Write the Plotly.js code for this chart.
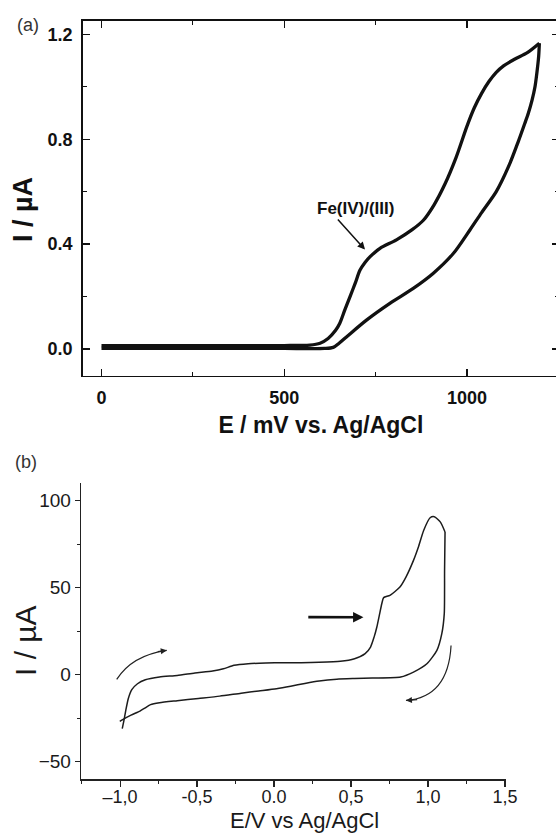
<!DOCTYPE html>
<html>
<head>
<meta charset="utf-8">
<script src="https://cdn.plot.ly/plotly-3.0.1.min.js"></script>
<style>
html, body { margin:0; padding:0; overflow:hidden; background:#fff; }
#chart { width:562px; height:834px; }
</style>
</head>
<body>
<div id="chart"></div>
<script>
// ---- Panel (a): E / mV, I / µA ----
const E_a_fwd = [0, 100, 200, 300, 400, 500, 570, 598, 620, 640, 652, 666, 680, 694, 707, 721, 735, 762, 807, 850, 880, 910, 940, 970, 1000, 1020, 1040, 1060, 1080, 1100, 1130, 1165, 1198];
const I_a_fwd = [0.013, 0.013, 0.013, 0.013, 0.013, 0.013, 0.015, 0.022, 0.04, 0.07, 0.098, 0.15, 0.2, 0.25, 0.30, 0.33, 0.352, 0.384, 0.416, 0.455, 0.49, 0.55, 0.63, 0.73, 0.85, 0.92, 0.975, 1.02, 1.055, 1.08, 1.105, 1.13, 1.166];
const E_a_rev = [1198, 1196, 1191, 1186, 1178, 1168, 1158, 1140, 1115, 1080, 1040, 1008, 963, 908, 853, 789, 725, 671, 650, 634, 610, 500, 400, 300, 200, 100, 0];
const I_a_rev = [1.166, 1.115, 1.051, 1.0, 0.949, 0.90, 0.86, 0.79, 0.70, 0.60, 0.52, 0.454, 0.365, 0.289, 0.231, 0.174, 0.11, 0.047, 0.022, 0.006, 0.002, 0.002, 0.002, 0.002, 0.002, 0.002, 0.002];

// ---- Panel (b): E / V, I / µA ----
const E_b_fwd = [-0.986, -0.975, -0.963, -0.947, -0.924, -0.887, -0.836, -0.744, -0.629, -0.514, -0.399, -0.329, -0.260, -0.168, -0.053, 0.062, 0.177, 0.293, 0.431, 0.523, 0.592, 0.627, 0.650, 0.668, 0.684, 0.700, 0.712, 0.753, 0.818, 0.857, 0.906, 0.938, 0.972, 1.014, 1.041, 1.081, 1.111];
const I_b_fwd = [-31.0, -26.2, -20.5, -13.8, -8.6, -5.2, -2.9, -1.3, -0.4, 1.0, 2.1, 3.4, 5.4, 6.3, 6.7, 6.9, 6.9, 7.1, 7.7, 9.2, 12.1, 15.9, 21.6, 27.4, 34.1, 40.8, 44.3, 45.6, 50.4, 56.1, 65.7, 73.4, 82.9, 90.2, 90.8, 87.7, 82.0];
const E_b_rev = [1.111, 1.108, 1.106, 1.090, 1.058, 0.993, 0.906, 0.823, 0.638, 0.523, 0.408, 0.293, 0.200, 0.108, 0.016, -0.099, -0.214, -0.353, -0.491, -0.629, -0.744, -0.802, -0.836, -0.871, -0.929, -0.986, -1.002];
const I_b_rev = [82.0, 60.0, 35.1, 23.6, 14.0, 6.3, 1.5, -1.3, -1.9, -2.2, -2.6, -3.6, -5.0, -6.6, -8.0, -9.3, -10.6, -12.3, -13.6, -14.9, -16.1, -17.2, -19.0, -20.9, -23.2, -25.9, -26.8];

const xtickvals_b = [-1, -0.5, 0, 0.5, 1, 1.5];
const xticktext_b = ['\u20131,0', '-0,5', '0.0', '0,5', '1,0', '1,5'];

const FONT = 'Liberation Sans, Arial, Helvetica, sans-serif';
const INK = '#111111';
const W = 562, H = 834;

const traces = [
  {x:E_a_fwd, y:I_a_fwd, xaxis:'x', yaxis:'y', mode:'lines', name:'(a) anodic',
   line:{color:INK, width:3.3, shape:'spline', smoothing:0.8}, hoverinfo:'skip'},
  {x:E_a_rev, y:I_a_rev, xaxis:'x', yaxis:'y', mode:'lines', name:'(a) cathodic',
   line:{color:INK, width:3.3, shape:'spline', smoothing:0.8}, hoverinfo:'skip'},
  {x:E_b_fwd, y:I_b_fwd, xaxis:'x2', yaxis:'y2', mode:'lines', name:'(b) anodic',
   line:{color:'#1c1c1c', width:1.5, shape:'spline', smoothing:0.6}, hoverinfo:'skip'},
  {x:E_b_rev, y:I_b_rev, xaxis:'x2', yaxis:'y2', mode:'lines', name:'(b) cathodic',
   line:{color:'#1c1c1c', width:1.5, shape:'spline', smoothing:0.6}, hoverinfo:'skip'}
];

const layout = {
  width: W, height: H,
  margin: {l:0, r:0, t:0, b:0},
  paper_bgcolor:'#fff', plot_bgcolor:'#fff',
  showlegend:false,
  font:{family:FONT, color:INK},
  xaxis: {
    domain:[82.7/W, 559/W], range:[-51.4, 1251.7], anchor:'y',
    showline:true, linewidth:1.6, linecolor:INK, mirror:'allticks',
    ticks:'inside', ticklen:7, tickwidth:1.4, tickcolor:INK,
    tick0:0, dtick:500,
    minor:{ticks:'inside', ticklen:4, tickwidth:1.2, tickcolor:INK, tick0:0, dtick:250},
    showgrid:false, zeroline:false,
    tickfont:{family:FONT, size:18, weight:'bold', color:INK},
    ticklabelstandoff:5,
    title:{text:'E / mV vs. Ag/AgCl', font:{family:FONT, size:23, weight:'bold', color:INK}, standoff:10}
  },
  yaxis: {
    domain:[(H-375.7)/H, (H-21)/H], range:[-0.102, 1.251], anchor:'x',
    showline:true, linewidth:1.6, linecolor:INK, mirror:'allticks',
    ticks:'inside', ticklen:7, tickwidth:1.4, tickcolor:INK,
    tick0:0, dtick:0.4, tickformat:'.1f',
    minor:{ticks:'inside', ticklen:4, tickwidth:1.2, tickcolor:INK, tick0:0, dtick:0.2},
    showgrid:false, zeroline:false,
    tickfont:{family:FONT, size:18, weight:'bold', color:INK},
    ticklabelstandoff:5
  },
  xaxis2: {
    domain:[81/W, 506/W], range:[-1.254, 1.507], anchor:'y2',
    showline:true, linewidth:1.3, linecolor:'#222', mirror:false,
    ticks:'outside', ticklen:6, tickwidth:1.2, tickcolor:'#222',
    tickmode:'array', tickvals:xtickvals_b, ticktext:xticktext_b,
    minor:{ticks:'outside', ticklen:3.5, tickwidth:1.1, tickcolor:'#222', tickmode:'linear', tick0:0, dtick:0.25},
    showgrid:false, zeroline:false,
    tickfont:{family:FONT, size:18, color:'#1a1a1a'},
    ticklabelstandoff:-5
  },
  yaxis2: {
    domain:[(H-779.3)/H, (H-483.3)/H], range:[-60.1, 110], anchor:'x2',
    showline:true, linewidth:1.3, linecolor:'#222', mirror:false,
    ticks:'outside', ticklen:5, tickwidth:1.2, tickcolor:'#222',
    tick0:0, dtick:50,
    minor:{ticks:'outside', ticklen:3, tickwidth:1.1, tickcolor:'#222', tick0:0, dtick:25},
    showgrid:false, zeroline:false,
    tickfont:{family:FONT, size:19, color:'#1a1a1a'}
  },
  shapes: [
    {type:'path', xref:'x2', yref:'y2', path:'M -1.022 -2.7 Q -0.923 11.1 -0.697 14.0',
     line:{color:'#222', width:1.2}},
    {type:'path', xref:'x2', yref:'y2', path:'M 1.150 16.8 Q 1.132 -13.0 0.857 -14.8',
     line:{color:'#222', width:1.2}}
  ],
  annotations: [
    {text:'(a)', xref:'paper', yref:'paper', x:27.5/W, y:1-24.5/H, xanchor:'center', yanchor:'middle',
     showarrow:false, font:{family:FONT, size:18, color:'#333'}},
    {text:'(b)', xref:'paper', yref:'paper', x:25.7/W, y:1-461.7/H, xanchor:'center', yanchor:'middle',
     showarrow:false, font:{family:FONT, size:18, color:'#333'}},
    // axis titles placed as in the reference
    {text:'I / \u00b5A', xref:'paper', yref:'paper', x:23/W, y:1-210/H, xanchor:'center', yanchor:'middle',
     textangle:-90, showarrow:false, font:{family:FONT, size:27, weight:'bold', color:INK}},
    {text:'I / \u00b5A', xref:'paper', yref:'paper', x:25/W, y:1-641/H, xanchor:'center', yanchor:'middle',
     textangle:-90, showarrow:false, font:{family:FONT, size:30, color:'#1a1a1a'}},
    {text:'E/V vs Ag/AgCl', xref:'paper', yref:'paper', x:304.7/W, y:1-820.5/H, xanchor:'center', yanchor:'middle',
     showarrow:false, font:{family:FONT, size:22, color:'#1a1a1a'}},
    {text:'Fe(IV)/(III)', xref:'x', yref:'y', x:696, y:0.534, xanchor:'center', yanchor:'middle',
     showarrow:false, font:{family:FONT, size:17, weight:'bold', color:INK}},
    {text:'', xref:'x', yref:'y', x:721, y:0.379, axref:'x', ayref:'y', ax:643, ay:0.500,
     showarrow:true, arrowhead:2, arrowsize:1, arrowwidth:1.5, arrowcolor:INK},
    {text:'', xref:'x2', yref:'y2', x:0.581, y:33.0, axref:'x2', ayref:'y2', ax:0.213, ay:33.1,
     showarrow:true, arrowhead:2, arrowsize:0.8, arrowwidth:2.6, arrowcolor:'#111'},
    {text:'', xref:'x2', yref:'y2', x:-0.697, y:14.0, ax:-10.4, ay:1.5,
     showarrow:true, arrowhead:2, arrowsize:1, arrowwidth:1.2, arrowcolor:'#222'},
    {text:'', xref:'x2', yref:'y2', x:0.857, y:-14.8, ax:12.7, ay:-0.9,
     showarrow:true, arrowhead:2, arrowsize:1, arrowwidth:1.2, arrowcolor:'#222'}
  ]
};

Plotly.newPlot('chart', traces, layout, {staticPlot:true, displayModeBar:false});
</script>
</body>
</html>
